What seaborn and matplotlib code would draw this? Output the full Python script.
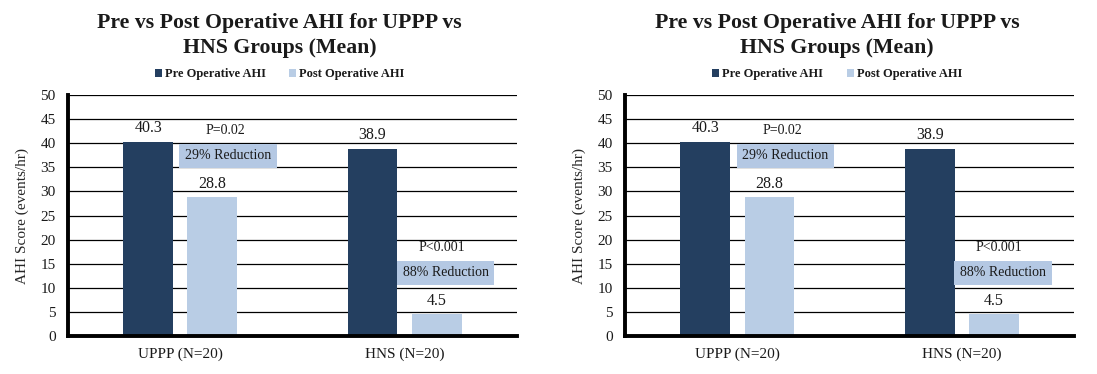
import matplotlib
matplotlib.use('Agg')
import matplotlib.pyplot as plt
import seaborn as sns
import pandas as pd

# chart values
groups = ['UPPP (N=20)', 'HNS (N=20)']
pre_ahi = [40.3, 38.9]
post_ahi = [28.8, 4.5]
series_names = ['Pre Operative AHI', 'Post Operative AHI']
p_values = ['P=0.02', 'P<0.001']
reductions = ['29% Reduction', '88% Reduction']
y_ticks = list(range(0, 55, 5))

sns.set_style('white')
plt.rcParams['font.family'] = ['Liberation Serif', 'DejaVu Serif']
plt.rcParams['text.color'] = '#1a1a1a'

df = pd.DataFrame({
    'group': groups * 2,
    'series': [series_names[0]] * 2 + [series_names[1]] * 2,
    'ahi': pre_ahi + post_ahi,
})
palette = {series_names[0]: '#243f60', series_names[1]: '#b9cde5'}
box_color = '#b4c8e3'

fig = plt.figure(figsize=(10.97, 3.74), dpi=100)
axes = [fig.add_axes([0.062, 0.1016, 0.409, 0.644]),
        fig.add_axes([0.570, 0.1016, 0.409, 0.644])]

for ax in axes:
    ax.set_axisbelow(True)
    ax.yaxis.grid(True, color='black', linewidth=0.9)
    sns.barplot(data=df, x='group', y='ahi', hue='series', palette=palette,
                width=0.571, gap=0.22, ax=ax, saturation=1, legend=True,
                linewidth=0, edgecolor='none')
    for cont in ax.containers:
        ax.bar_label(cont, fmt='%.1f', padding=4, fontsize=11.5)

    # significance annotations
    ax.text(0.20, 42.7, p_values[0], ha='center', va='center', fontsize=10)
    ax.text(0.214, 37.4, reductions[0], ha='center', va='center', fontsize=10,
            bbox=dict(boxstyle='square,pad=0.42', fc=box_color, ec='none'))
    ax.text(1.165, 18.3, p_values[1], ha='center', va='center', fontsize=10)
    ax.text(1.183, 13.1, reductions[1], ha='center', va='center', fontsize=10,
            bbox=dict(boxstyle='square,pad=0.42', fc=box_color, ec='none'))

    ax.set_ylim(0, 50)
    ax.set_xlim(-0.5, 1.5)
    ax.set_yticks(y_ticks)
    ax.tick_params(axis='both', length=0, labelsize=11, colors='#1a1a1a')
    ax.tick_params(axis='y', pad=9)
    ax.tick_params(axis='x', pad=8)
    ax.set_xlabel('')
    ax.set_ylabel('AHI Score (events/hr)', fontsize=11, labelpad=8)
    for s in ['top', 'right']:
        ax.spines[s].set_visible(False)
    for s in ['left', 'bottom']:
        ax.spines[s].set_linewidth(2.8)
        ax.spines[s].set_color('black')

    ax.legend(loc='center', bbox_to_anchor=(0.472, 1.087), ncol=2, frameon=False,
              handlelength=0.55, handleheight=0.55, handletextpad=0.25,
              columnspacing=1.9, prop={'weight': 'bold', 'size': 9})
    ax.text(0.472, 1.155, 'Pre vs Post Operative AHI for UPPP vs\nHNS Groups (Mean)',
            transform=ax.transAxes, ha='center', va='bottom', fontsize=15.7,
            fontweight='bold', linespacing=1.3)

fig.savefig('out.png', dpi=100)
